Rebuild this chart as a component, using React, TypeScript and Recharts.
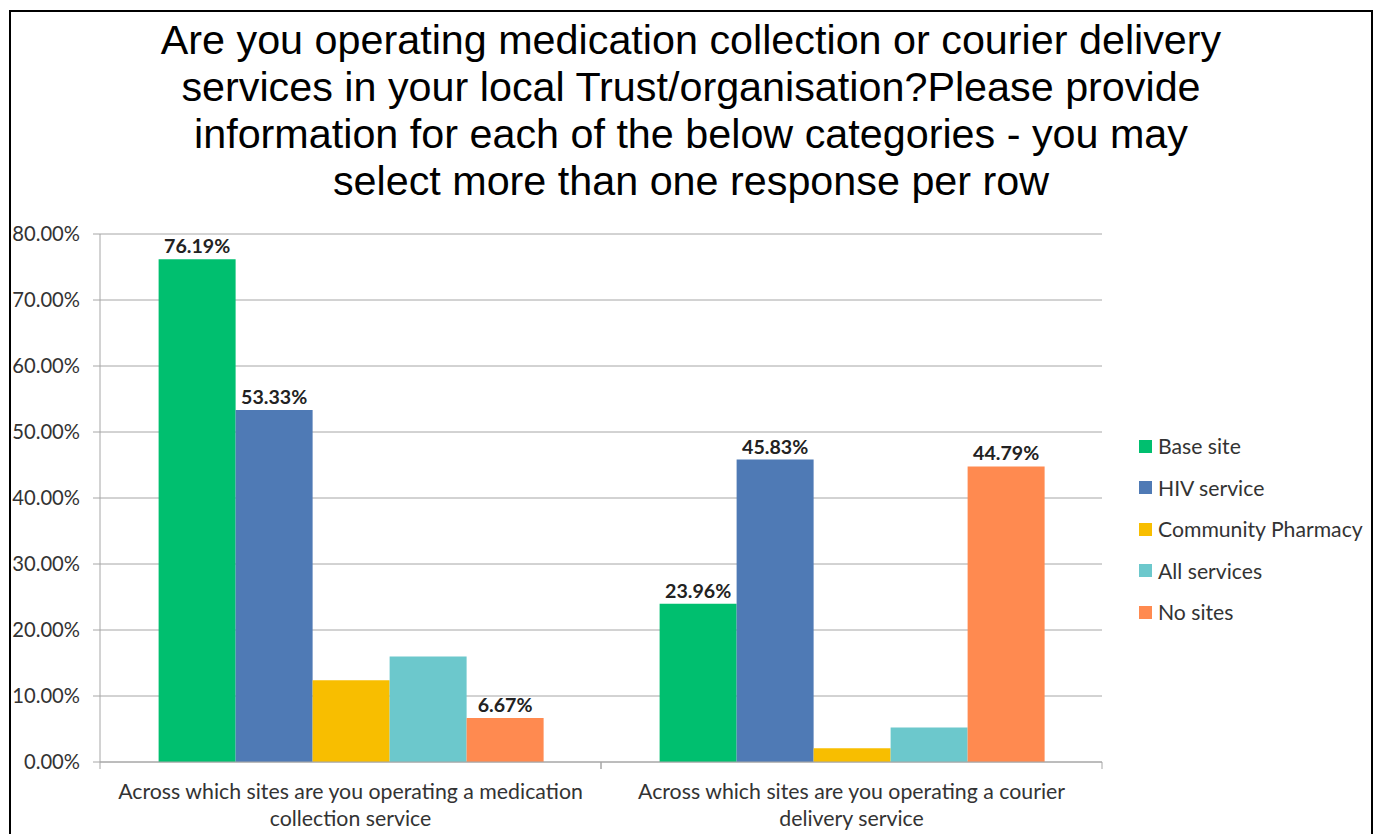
import React from 'react';
import { BarChart, Bar, XAxis, YAxis, CartesianGrid, LabelList } from 'recharts';

const titleLines = [
  'Are you operating medication collection or courier delivery',
  'services in your local Trust/organisation?Please provide',
  'information for each of the below categories - you may',
  'select more than one response per row',
];

const categories = [
  'Across which sites are you operating a medication collection service',
  'Across which sites are you operating a courier delivery service',
];

const seriesNames = ['Base site', 'HIV service', 'Community Pharmacy', 'All services', 'No sites'];
const baseSite = [76.19, 23.96];
const hivService = [53.33, 45.83];
const communityPharmacy = [12.38, 2.08];
const allServices = [16.0, 5.21];
const noSites = [6.67, 44.79];
const seriesValues = [baseSite, hivService, communityPharmacy, allServices, noSites];
const labelledSeries = ['Base site', 'HIV service', 'No sites'];
const yTicks = [0, 10, 20, 30, 40, 50, 60, 70, 80];
const colors = ['#00BF6F', '#4F7AB5', '#F8BE00', '#6CC8CC', '#FF8A50'];

const data = categories.map((c, i) => {
  const row: Record<string, any> = { category: c };
  seriesNames.forEach((s, j) => {
    row[s] = seriesValues[j][i];
  });
  return row;
});

const FONT = 'Lato, "Noto Sans", sans-serif';
const AXIS_GRAY = '#A6A6A6';

function wrap(text: string, max: number): string[] {
  const words = text.split(' ');
  const lines: string[] = [];
  let cur = '';
  words.forEach((w) => {
    const next = cur ? cur + ' ' + w : w;
    if (next.length > max && cur) {
      lines.push(cur);
      cur = w;
    } else {
      cur = next;
    }
  });
  if (cur) lines.push(cur);
  return lines;
}

const CategoryTick = (props: any) => {
  const { x, y, payload, width, visibleTicksCount } = props;
  const half = payload && typeof payload.offset === 'number' && payload.offset > 0
    ? payload.offset
    : width / (2 * (visibleTicksCount || 2));
  const lines = wrap(String(payload.value), 50);
  return (
    <g>
      <line x1={x - half} x2={x - half} y1={y - 7} y2={y} stroke={AXIS_GRAY} />
      <line x1={x + half} x2={x + half} y1={y - 7} y2={y} stroke={AXIS_GRAY} />
      {lines.map((l, i) => (
        <text
          key={i}
          x={x}
          y={y + 30 + i * 27}
          textAnchor="middle"
          fontFamily={FONT}
          fontSize={21.3}
          fill="#333"
        >
          {l}
        </text>
      ))}
    </g>
  );
};

const pct = (v: any) => Number(v).toFixed(2) + '%';

export default function App() {
  return (
    <div style={{ position: 'absolute', left: 0, top: 0, width: 1378, height: 834, overflow: 'hidden', background: '#fff' }}>
      <div
        style={{
          position: 'absolute',
          left: 9,
          top: 10,
          width: 1364,
          height: 860,
          border: '2px solid #000',
          boxSizing: 'border-box',
        }}
      />
      <div
        style={{
          position: 'absolute',
          left: 0,
          top: 17,
          width: 1382,
          textAlign: 'center',
          fontFamily: '"Liberation Sans", Arial, sans-serif',
          fontSize: 41.3,
          lineHeight: '47px',
          color: '#000',
        }}
      >
        {titleLines.map((l, i) => (
          <div key={i}>{l}</div>
        ))}
      </div>
      <div style={{ position: 'absolute', left: 0, top: 0 }}>
        <BarChart
          width={1378}
          height={834}
          data={data}
          margin={{ top: 234, right: 276, bottom: 12, left: 10 }}
          barCategoryGap="11.7%"
          barGap={0}
        >
          <CartesianGrid vertical={false} stroke={AXIS_GRAY} />
          <XAxis
            dataKey="category"
            height={60}
            interval={0}
            axisLine={{ stroke: AXIS_GRAY }}
            tickLine={false}
            tickSize={7}
            tickMargin={0}
            tick={<CategoryTick />}
          />
          <YAxis
            width={90}
            domain={[0, 80]}
            ticks={yTicks}
            tickFormatter={pct}
            axisLine={{ stroke: AXIS_GRAY }}
            tickLine={{ stroke: AXIS_GRAY }}
            tickSize={7}
            tickMargin={13}
            tick={{ fontFamily: FONT, fontSize: 20.2, fill: '#333' }}
          />
          {seriesNames.map((s, j) => (
            <Bar key={s} dataKey={s} fill={colors[j]} isAnimationActive={false}>
              {labelledSeries.includes(s) ? (
                <LabelList
                  dataKey={s}
                  position="top"
                  offset={6}
                  formatter={pct}
                  style={{ fontFamily: FONT, fontSize: 19.6, fontWeight: 700, fill: '#222' }}
                />
              ) : null}
            </Bar>
          ))}
        </BarChart>
      </div>
      {seriesNames.map((s, j) => (
        <div
          key={s}
          style={{
            position: 'absolute',
            left: 1139,
            top: 446 + j * 41.5 - 12,
            height: 24,
            display: 'flex',
            alignItems: 'center',
            fontFamily: FONT,
            fontSize: 21.2,
            color: '#333',
            whiteSpace: 'nowrap',
          }}
        >
          <span style={{ display: 'inline-block', width: 13, height: 13, background: colors[j], marginRight: 6 }} />
          <span>{s}</span>
        </div>
      ))}
    </div>
  );
}
